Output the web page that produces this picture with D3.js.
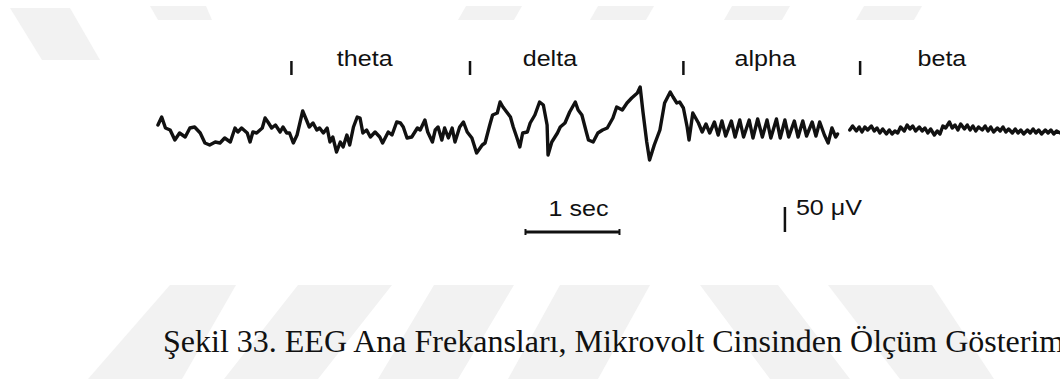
<!DOCTYPE html>
<html>
<head>
<meta charset="utf-8">
<script src="https://cdn.jsdelivr.net/npm/d3@7"></script>
<style>
  html, body { margin: 0; padding: 0; background: #fff; }
  svg { display: block; }
</style>
</head>
<body>
<svg id="chart" width="1060" height="379"></svg>
<script>
// EEG trace: time in seconds, amplitude in microvolts
const thetaTime = [0.01,0.05,0.09,0.14,0.19,0.24,0.30,0.35,0.40,0.46,0.51,0.56,0.62,0.67,0.72,0.78,0.83,0.86,0.90,0.96,0.99,1.02,1.06,1.12,1.15,1.18,1.22,1.26,1.31,1.34,1.38,1.41,1.45,1.49,1.52,1.55,1.59,1.62,1.66,1.70,1.73,1.77,1.81,1.84,1.87,1.91,1.95,1.98,2.02,2.05,2.09,2.13,2.16,2.19,2.23,2.27,2.32,2.37,2.40,2.46,2.50,2.55,2.59,2.62,2.66,2.71,2.77,2.80,2.85,2.88,2.93,2.96,2.99,3.03,3.06,3.10,3.14,3.17,3.22,3.26,3.30,3.35];
const thetaUV   = [6,22,0,-4,-24,-10,-18,0,2,-10,-30,-34,-28,-30,-20,-28,0,-8,0,-10,-28,-8,-10,0,20,12,0,6,-8,2,-10,-10,-30,-14,10,34,16,2,10,-4,0,-10,0,-28,-18,-48,-28,-38,-14,-34,2,22,20,-10,-4,-18,-8,-18,-30,-8,-14,12,10,2,-20,-18,0,-4,16,-8,-28,-4,2,-24,0,-20,0,-28,2,12,-8,-20];

const deltaTime = [3.40,3.46,3.49,3.54,3.57,3.62,3.65,3.68,3.72,3.76,3.79,3.83,3.86,3.89,3.94,3.97,4.02,4.07,4.11,4.15,4.16,4.20,4.26,4.29,4.34,4.39,4.45,4.48,4.52,4.57,4.59,4.64,4.69,4.74,4.79,4.85,4.89,4.95,5.00,5.05,5.11,5.14,5.17,5.21,5.24,5.29,5.35,5.40,5.46,5.49,5.53,5.56,5.60,5.64,5.66,5.70];
const deltaUV   = [-50,-34,-30,6,26,30,52,42,32,22,2,-20,-38,-10,-8,10,26,52,46,6,-54,-28,-10,2,10,32,52,36,26,-10,-24,-28,-10,-4,0,20,42,36,50,60,70,82,32,-28,-64,-34,-4,50,72,62,50,52,40,2,-24,30];

const alphaTime = [5.76,5.80,5.84,5.88,5.93,5.97,6.01,6.05,6.11,6.15,6.20,6.24,6.30,6.34,6.39,6.44,6.49,6.53,6.59,6.63,6.68,6.72,6.78,6.82,6.87,6.91,6.97,7.01,7.05,7.10,7.14,7.18,7.22,7.24];
const alphaUV   = [10,-8,8,-10,12,-14,14,-16,14,-18,16,-18,16,-20,18,-18,16,-20,18,-20,16,-18,14,-18,14,-16,12,-16,12,-14,-30,0,-18,-12];

const betaTime = [7.37,7.40,7.44,7.47,7.50,7.53,7.56,7.60,7.63,7.66,7.69,7.72,7.76,7.79,7.82,7.85,7.88,7.91,7.95,7.98,8.01,8.04,8.07,8.11,8.14,8.17,8.20,8.23,8.27,8.30,8.33,8.36,8.39,8.43,8.46,8.49,8.52,8.55,8.59,8.62,8.65,8.68,8.71,8.74,8.78,8.81,8.84,8.87,8.90,8.94,8.97,9.00,9.03,9.06,9.10,9.13,9.16,9.19,9.22,9.26,9.29,9.32,9.35,9.38,9.41,9.45,9.48,9.51,9.54,9.57,9.61];
const betaUV   = [-4,4,-6,2,-8,2,-4,4,-6,0,-10,-2,-12,-4,-12,-6,-10,2,-6,6,-2,4,-6,2,-6,0,-10,-2,-14,-6,-12,4,0,12,0,6,-4,8,-2,6,-4,4,-6,2,-4,4,-6,2,-8,0,-6,2,-8,-2,-10,-2,-10,-4,-12,-4,-10,-2,-10,-4,-12,-4,-10,-4,-12,-6,-10];

// Band markers and labels
const bandNames  = ["theta", "delta", "alpha", "beta"];
const bandStart  = [1.43, 3.33, 5.60, 7.48];
const bandCenter = [2.21, 4.18, 6.47, 8.35];

// Calibration bars
const timeBar = 1;      // seconds
const voltBar = 50;     // microvolts
const timeBarLabel = "1 sec";
const voltBarLabel = "50 μV";
const timeBarStart = 3.92;
const voltBarAt = 6.68;

const caption = "Şekil 33. EEG Ana Frekansları, Mikrovolt Cinsinden Ölçüm Gösterimi";

// Faint background stripes of the page watermark
const stripes = [
  [[10,8],[70,8],[100,60],[42,60]],
  [[150,6],[206,6],[212,20],[158,20]],
  [[466,6],[522,6],[514,20],[458,20]],
  [[598,6],[654,6],[646,20],[590,20]],
  [[732,6],[790,6],[782,20],[724,20]],
  [[864,6],[922,6],[914,20],[856,20]],
  [[170,285],[236,285],[182,379],[88,379]],
  [[298,285],[392,285],[318,379],[224,379]],
  [[434,285],[514,285],[458,379],[378,379]],
  [[560,285],[650,285],[598,379],[508,379]],
  [[700,285],[778,285],[850,379],[770,379]],
  [[828,285],[932,285],[994,379],[900,379]]
];

const svg = d3.select("#chart");
svg.append("rect").attr("width", 1060).attr("height", 379).attr("fill", "#fff");

svg.append("g").selectAll("polygon").data(stripes).join("polygon")
  .attr("points", d => d.map(p => p.join(",")).join(" "))
  .attr("fill", "#f2f2f2");

const x = d3.scaleLinear().domain([0, 1]).range([157, 251]);
const y = d3.scaleLinear().domain([0, 50]).range([128, 103]);

const sans = "'Liberation Sans', Arial, Helvetica, sans-serif";

function stretch(sel, k) {
  sel.each(function () {
    const w = this.getComputedTextLength();
    d3.select(this).attr("textLength", w * k).attr("lengthAdjust", "spacingAndGlyphs");
  });
}

const segments = [
  d3.zip(thetaTime.concat(deltaTime, alphaTime), thetaUV.concat(deltaUV, alphaUV)),
  d3.zip(betaTime, betaUV)
];

const line = d3.line().x(d => x(d[0])).y(d => y(d[1]));

svg.append("g").selectAll("path").data(segments).join("path")
  .attr("d", line)
  .attr("fill", "none")
  .attr("stroke", "#111")
  .attr("stroke-width", 3.4)
  .attr("stroke-linejoin", "round")
  .attr("stroke-linecap", "round");

// band boundary marks
svg.append("g").selectAll("line").data(bandStart).join("line")
  .attr("x1", d => x(d)).attr("x2", d => x(d))
  .attr("y1", 61).attr("y2", 75)
  .attr("stroke", "#111").attr("stroke-width", 2.5);

svg.append("g").selectAll("text").data(bandNames).join("text")
  .attr("x", (d, i) => x(bandCenter[i]))
  .attr("y", 66)
  .attr("text-anchor", "middle")
  .attr("font-family", sans)
  .attr("font-size", 22)
  .attr("fill", "#111")
  .text(d => d)
  .call(stretch, 1.14);

// 1 second bar
const tb = svg.append("g");
const tx0 = x(timeBarStart), tx1 = x(timeBarStart + timeBar), ty = 232;
tb.append("line").attr("x1", tx0).attr("x2", tx1).attr("y1", ty).attr("y2", ty)
  .attr("stroke", "#111").attr("stroke-width", 3);
tb.selectAll(".cap").data([tx0, tx1]).join("line").attr("class", "cap")
  .attr("x1", d => d).attr("x2", d => d).attr("y1", ty - 3).attr("y2", ty + 3)
  .attr("stroke", "#111").attr("stroke-width", 2);
tb.append("text").attr("x", (tx0 + tx1) / 2 + 6).attr("y", 216)
  .attr("text-anchor", "middle").attr("font-family", sans).attr("font-size", 22)
  .attr("fill", "#111").text(timeBarLabel).call(stretch, 1.14);

// 50 microvolt bar
const vb = svg.append("g");
const vx = x(voltBarAt), vy0 = 232, vy1 = vy0 - (y(0) - y(voltBar));
vb.append("line").attr("x1", vx).attr("x2", vx).attr("y1", vy0).attr("y2", vy1)
  .attr("stroke", "#111").attr("stroke-width", 2.5);
vb.append("text").attr("x", vx + 11).attr("y", 215)
  .attr("font-family", sans).attr("font-size", 22)
  .attr("fill", "#111").text(voltBarLabel).call(stretch, 1.14);

// caption
svg.append("text").attr("x", 163).attr("y", 352)
  .attr("font-family", "'Liberation Serif', 'Times New Roman', serif")
  .attr("font-size", 32)
  .attr("fill", "#111")
  .text(caption);
</script>
</body>
</html>
